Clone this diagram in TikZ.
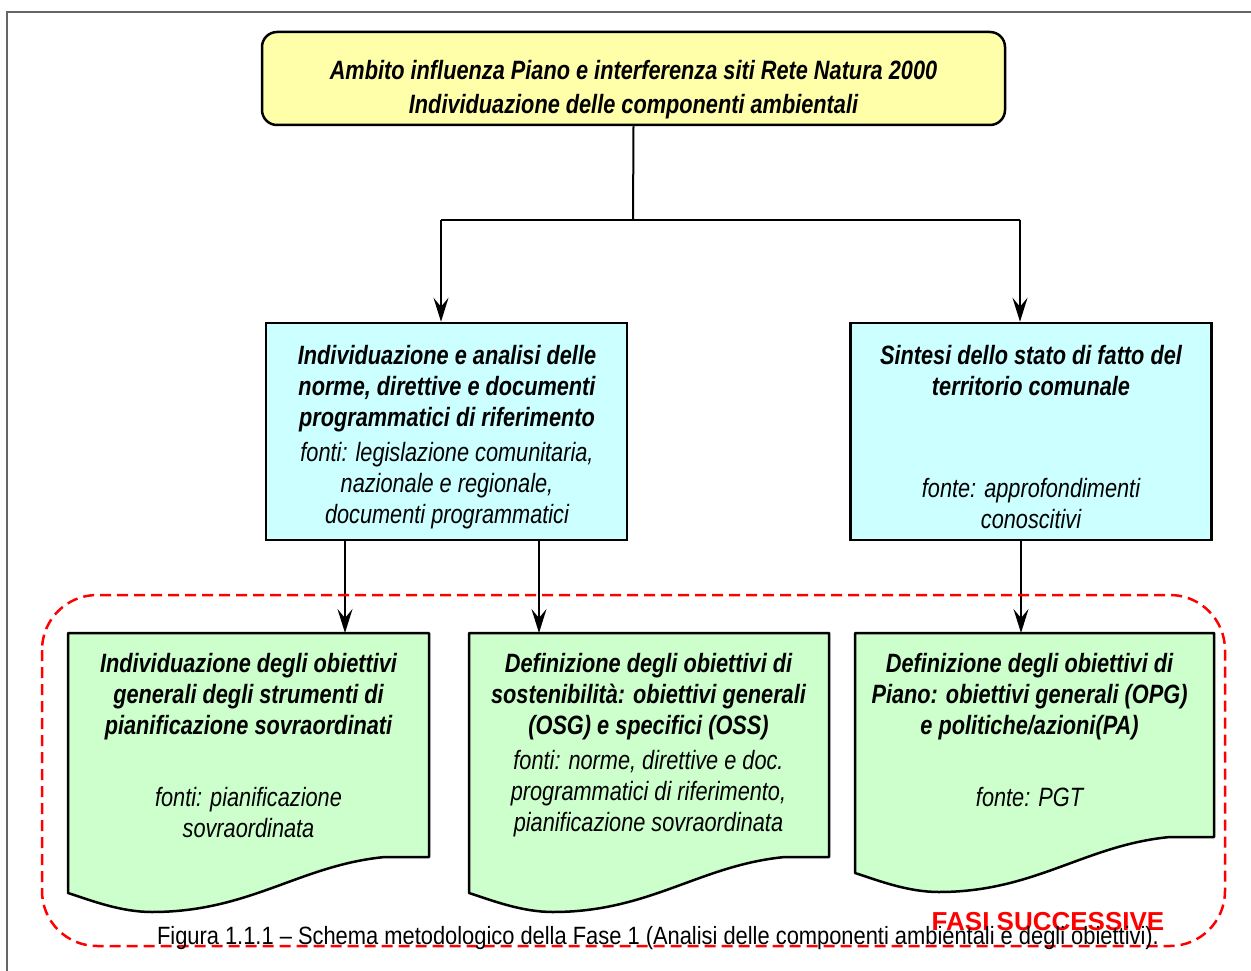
\documentclass[tikz,border=0pt]{standalone}
\usepackage{fontspec}
\setmainfont{Liberation Sans}[FakeStretch=0.82]
\newfontfamily\widefont{Liberation Sans}
\newfontfamily\capfont{Liberation Sans}[FakeStretch=0.875]
\usetikzlibrary{arrows.meta}

\definecolor{boxyellow}{HTML}{FFFFAA}
\definecolor{boxcyan}{HTML}{CCFFFF}
\definecolor{boxgreen}{HTML}{CCFFCC}
\definecolor{framegray}{HTML}{666666}

\tikzset{
  conn/.style={line width=2pt, draw=black},
  arr/.style={conn, -{Stealth[length=24pt,width=15pt,inset=9pt]}},
  titlebox/.style={draw=black, line width=2.5pt, fill=boxyellow, rounded corners=15pt,
    minimum width=743pt, minimum height=93pt, inner sep=0pt},
  cyanbox/.style={draw=black, line width=2.5pt, fill=boxcyan, inner sep=0pt,
    minimum width=361pt, minimum height=217pt},
  docfill/.style={draw=black, line width=2.5pt, fill=boxgreen, line join=round},
  headtxt/.style={inner sep=0pt, align=center, font=\fontsize{26.5}{31}\selectfont\bfseries\itshape},
  srctxt/.style={inner sep=0pt, align=center, font=\fontsize{26.5}{31}\selectfont\itshape},
  phase/.style={draw=red, line width=2.5pt, dash pattern=on 11pt off 6pt, rounded corners=55pt},
}

% document shape: left x, right x, top y, y of the lower right corner
\newcommand{\docshape}[4]{%
  \path[docfill] (#1,#3) -- (#2,#3) -- (#2,#4) -- ({#2-44},#4)
    .. controls ({#2-129},{#4+8}) and ({#2-179},{#4+55}) .. ({#1+84},{#4+55})
    .. controls ({#1+52},{#4+55}) and ({#1+22},{#4+43}) .. (#1,{#4+36}) -- cycle;}

\begin{document}
\begin{tikzpicture}[x=1pt, y=-1pt]
\useasboundingbox (0,0) rectangle (1251,971);

% outer frame
\draw[framegray, line width=1.5pt] (7,971) -- (7,12) -- (1251,12);

% title box
\node[titlebox] (top) at (633.5,78.5) {};
\node[inner sep=0pt, align=center, font=\fontsize{26.5}{34}\selectfont\bfseries\itshape]
  (toptxt) at (633.5,90)
  {Ambito influenza Piano e interferenza siti Rete Natura 2000\\
   Individuazione delle componenti ambientali};

% second level boxes
\node[cyanbox] (lbox) at (446.5,431.5) {};
\node[cyanbox] (rbox) at (1031,431.5) {};

\node[headtxt] (lhead) at (447,389) {Individuazione e analisi delle\\
  norme, direttive e documenti\\ programmatici di riferimento};
\node[srctxt] (lsrc) at (447,486) {fonti: legislazione comunitaria,\\
  nazionale e regionale,\\ documenti programmatici};

\node[headtxt] (rhead) at (1031,370.5) {Sintesi dello stato di fatto del\\
  territorio comunale};
\node[srctxt] (rsrc) at (1031,503.5) {fonte: approfondimenti\\ conoscitivi};

% third level documents
\docshape{68}{429}{633}{857}
\docshape{469}{829}{633}{857}
\docshape{855}{1214}{633}{837}

\coordinate (g1) at (345,633);
\coordinate (g2) at (539,633);
\coordinate (g3) at (1021,633);

\node[headtxt] (d1head) at (248.5,697) {Individuazione degli obiettivi\\
  generali degli strumenti di\\ pianificazione sovraordinati};
\node[srctxt] (d1src) at (248.5,812.5) {fonti: pianificazione\\ sovraordinata};

\node[headtxt] (d2head) at (648.5,697) {Definizione degli obiettivi di\\
  sostenibilità: obiettivi generali\\ (OSG) e specifici (OSS)};
\node[srctxt] (d2src) at (648.5,794) {fonti: norme, direttive e doc.\\
  programmatici di riferimento,\\ pianificazione sovraordinata};

\node[headtxt] (d3head) at (1029.5,697) {Definizione degli obiettivi di\\
  Piano: obiettivi generali (OPG)\\ e politiche/azioni(PA)};
\node[srctxt] (d3src) at (1029.5,797) {fonte: PGT};

% connectors
\coordinate (split) at (633,220);
\coordinate (lsplit) at (441,220);
\coordinate (rsplit) at (1020,220);
\draw[conn] (top.south) -- (split);
\draw[conn] (lsplit) -- (rsplit);
\draw[arr] (lsplit) -- (lsplit |- lbox.north);
\draw[arr] (rsplit) -- (rsplit |- rbox.north);
\draw[arr] (lbox.south -| g1) -- (g1);
\draw[arr] (lbox.south -| g2) -- (g2);
\draw[arr] (rbox.south -| g3) -- (g3);

% later phases
\draw[phase] (42,595) rectangle (1225,946);
\node[inner sep=0pt, text=red, font=\widefont\fontsize{26}{30}\selectfont\bfseries]
  (fasi) at (1048,922) {FASI SUCCESSIVE};

% caption
\node[inner sep=0pt, font=\capfont\fontsize{25}{30}\selectfont] (caption) at (658,938)
  {Figura 1.1.1 – Schema metodologico della Fase 1 (Analisi delle componenti ambientali e degli obiettivi).};
\end{tikzpicture}
\end{document}
